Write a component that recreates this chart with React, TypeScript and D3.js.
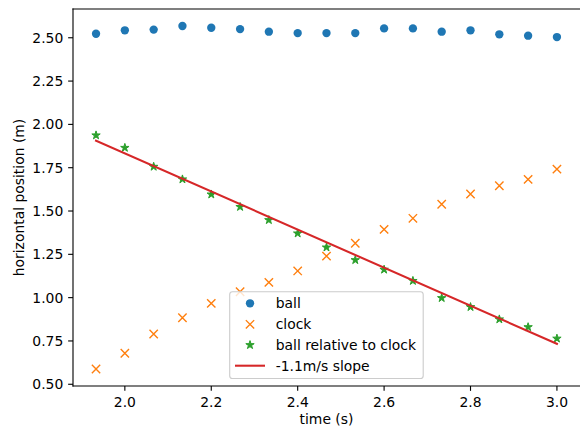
import React from "react";
import * as d3 from "d3";

const times = [1.9333, 2.0, 2.0667, 2.1333, 2.2, 2.2667, 2.3333, 2.4, 2.4667, 2.5333, 2.6, 2.6667, 2.7333, 2.8, 2.8667, 2.9333, 3.0];
const ball = [2.523, 2.543, 2.547, 2.568, 2.558, 2.550, 2.535, 2.527, 2.527, 2.527, 2.554, 2.554, 2.535, 2.543, 2.520, 2.512, 2.504];
const clock = [0.588, 0.679, 0.790, 0.884, 0.967, 1.034, 1.088, 1.154, 1.240, 1.314, 1.394, 1.458, 1.539, 1.598, 1.646, 1.683, 1.742];
const relative = [1.937, 1.865, 1.756, 1.683, 1.596, 1.524, 1.448, 1.371, 1.290, 1.217, 1.162, 1.097, 0.998, 0.946, 0.875, 0.830, 0.764];
const slopeT = [1.9333, 3.0];
const slopeY = [1.906, 0.733];
const xTicks = [2.0, 2.2, 2.4, 2.6, 2.8, 3.0];
const yTicks = [0.5, 0.75, 1.0, 1.25, 1.5, 1.75, 2.0, 2.25, 2.5];
const legendLabels = ["ball", "clock", "ball relative to clock", "-1.1m/s slope"];

const BLUE = "#1f77b4";
const ORANGE = "#ff7f0e";
const GREEN = "#2ca02c";
const RED = "#d62728";
const FONT = "DejaVu Sans";
const FS = 13.9;

const L = 73, R = 580, T = 9, B = 386;

function starPath(r: number) {
  const inner = r * 0.381966;
  const pts: string[] = [];
  for (let i = 0; i < 10; i++) {
    const rad = i % 2 === 0 ? r : inner;
    const a = (Math.PI / 5) * i - Math.PI / 2;
    pts.push(`${(rad * Math.cos(a)).toFixed(3)},${(rad * Math.sin(a)).toFixed(3)}`);
  }
  return "M" + pts.join("L") + "Z";
}

export default function App() {
  const x = d3.scaleLinear().domain([1.88, 3.0534]).range([L, R]);
  const y = d3.scaleLinear().domain([0.490, 2.666]).range([B, T]);
  const mr = 4.17;
  const star = starPath(4.4);
  const xm = (cx: number, cy: number, key: any) => (
    <path key={key} d={`M${cx - mr},${cy - mr}L${cx + mr},${cy + mr}M${cx - mr},${cy + mr}L${cx + mr},${cy - mr}`} stroke={ORANGE} strokeWidth={1.39} fill="none" />
  );
  const line = d3.line<number>().x((_, i) => x(slopeT[i])).y((d) => y(d));

  const lx = 229.7, ly = 291.7, lw = 193.5, lh = 86.8;
  const rowY = [303.3, 324.3, 345.0, 365.7];

  return (
    <svg width={580} height={428} style={{ position: "absolute", left: 0, top: 0 }} fontFamily={FONT}>
      <rect x={0} y={0} width={580} height={428} fill="white" />
      <defs>
        <clipPath id="clip"><rect x={L} y={T} width={R - L + 5} height={B - T} /></clipPath>
      </defs>
      <g clipPath="url(#clip)">
        {times.map((t, i) => <circle key={"b" + i} cx={x(t)} cy={y(ball[i])} r={mr} fill={BLUE} />)}
        {times.map((t, i) => xm(x(t), y(clock[i]), "c" + i))}
        {times.map((t, i) => (
          <path key={"s" + i} d={star} transform={`translate(${x(t)},${y(relative[i])})`} fill={GREEN} stroke={GREEN} strokeWidth={1.0} />
        ))}
        <path d={line(slopeY) || ""} stroke={RED} strokeWidth={2.08} fill="none" strokeLinecap="square" />
      </g>
      <g stroke="#000" strokeWidth={1.11} fill="none" strokeLinecap="square">
        <line x1={L} y1={T} x2={L} y2={B} />
        <line x1={L} y1={B} x2={R + 2} y2={B} />
        <line x1={L} y1={T} x2={R + 2} y2={T} />
      </g>
      {xTicks.map((t) => (
        <g key={"xt" + t}>
          <line x1={x(t)} x2={x(t)} y1={B} y2={B + 4.86} stroke="#000" strokeWidth={1.11} />
          <text x={x(t)} y={406.5} textAnchor="middle" fontSize={FS} fill="#000">{t.toFixed(1)}</text>
        </g>
      ))}
      {yTicks.map((v) => (
        <g key={"yt" + v}>
          <line x1={L - 4.86} x2={L} y1={y(v)} y2={y(v)} stroke="#000" strokeWidth={1.11} />
          <text x={63.3} y={y(v) + 5} textAnchor="end" fontSize={FS} fill="#000">{v.toFixed(2)}</text>
        </g>
      ))}
      <text x={(L + R) / 2} y={424} textAnchor="middle" fontSize={FS} fill="#000">time (s)</text>
      <text transform={`translate(23.5,${(T + B) / 2}) rotate(-90)`} textAnchor="middle" fontSize={FS} fill="#000">horizontal position (m)</text>
      <rect x={lx} y={ly} width={lw} height={lh} rx={2.8} fill="white" fillOpacity={0.8} stroke="#cccccc" strokeWidth={1.11} />
      <circle cx={250} cy={rowY[0]} r={mr} fill={BLUE} />
      {xm(250, rowY[1], "lx")}
      <path d={star} transform={`translate(250,${rowY[2]})`} fill={GREEN} stroke={GREEN} strokeWidth={1.0} />
      <line x1={235} x2={265} y1={rowY[3]} y2={rowY[3]} stroke={RED} strokeWidth={2.08} />
      {legendLabels.map((lab, i) => (
        <text key={lab} x={275.7} y={rowY[i] + 5} fontSize={FS} fill="#000">{lab}</text>
      ))}
    </svg>
  );
}
